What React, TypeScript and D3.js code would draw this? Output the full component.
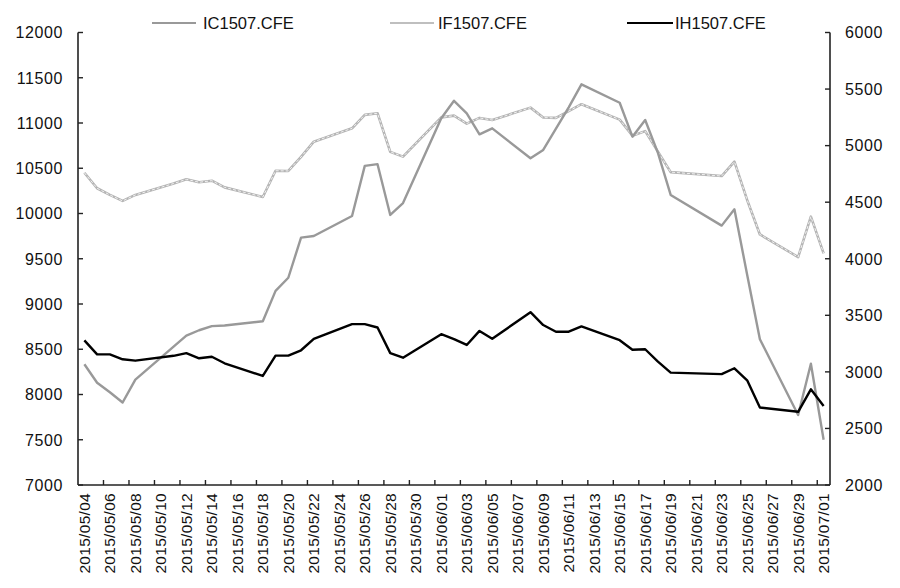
import React from "react";
import * as d3 from "d3";

const tradeDates = [
  "2015/05/04","2015/05/05","2015/05/06","2015/05/07","2015/05/08",
  "2015/05/11","2015/05/12","2015/05/13","2015/05/14","2015/05/15",
  "2015/05/18","2015/05/19","2015/05/20","2015/05/21","2015/05/22",
  "2015/05/25","2015/05/26","2015/05/27","2015/05/28","2015/05/29",
  "2015/06/01","2015/06/02","2015/06/03","2015/06/04","2015/06/05",
  "2015/06/08","2015/06/09","2015/06/10","2015/06/11","2015/06/12",
  "2015/06/15","2015/06/16","2015/06/17","2015/06/18","2015/06/19",
  "2015/06/23","2015/06/24","2015/06/25","2015/06/26",
  "2015/06/29","2015/06/30","2015/07/01",
];

const icValues = [
  8334, 8130, 8025, 7912, 8165,
  8530, 8650, 8710, 8755, 8762,
  8810, 9145, 9290, 9733, 9751,
  9972, 10526, 10545, 9984, 10115,
  11052, 11245, 11107, 10875, 10941,
  10610, 10702, 10937, 11173, 11427,
  11224, 10849, 11033, 10670, 10205,
  9866, 10046, 9324, 8610,
  7774, 8340, 7500,
];

const ifValues = [
  4760, 4623, 4564, 4511, 4564,
  4665, 4702, 4676, 4690, 4631,
  4546, 4778, 4776, 4900, 5035,
  5153, 5272, 5286, 4945, 4903,
  5250, 5265, 5195, 5245, 5226,
  5336, 5248, 5245, 5305, 5366,
  5230, 5088, 5128, 4947, 4766,
  4731, 4858, 4520, 4215,
  4015, 4372, 4048,
];

const ihValues = [
  3278, 3155, 3155, 3111, 3099,
  3142, 3166, 3120, 3134, 3076,
  2964, 3144, 3144, 3191, 3292,
  3422, 3422, 3392, 3166, 3125,
  3333, 3290, 3238, 3362, 3292,
  3528, 3414, 3355, 3355, 3402,
  3280, 3195, 3200, 3090, 2993,
  2980, 3032, 2925, 2685,
  2647, 2846, 2698,
];

const leftTicks = [7000, 7500, 8000, 8500, 9000, 9500, 10000, 10500, 11000, 11500, 12000];
const rightTicks = [2000, 2500, 3000, 3500, 4000, 4500, 5000, 5500, 6000];

const seriesNames = ["IC1507.CFE", "IF1507.CFE", "IH1507.CFE"];

const FONT = "'Liberation Sans', Arial, sans-serif";

export default function App() {
  const W = 900, H = 588;
  const left = 78, right = 830, top = 32.5, bottom = 485;

  const parse = d3.timeParse("%Y/%m/%d");
  const fmt = d3.timeFormat("%Y/%m/%d");
  const first = parse(tradeDates[0])!;
  const last = parse(tradeDates[tradeDates.length - 1])!;
  const calendar = d3.timeDay.range(first, d3.timeDay.offset(last, 1)).map(fmt);

  const x = d3.scaleBand<string>().domain(calendar).range([left, right]).padding(0);
  const bw = x.bandwidth();
  const cx = (d: string) => (x(d) as number) + bw / 2;

  const yL = d3.scaleLinear().domain([7000, 12000]).range([bottom, top]);
  const yR = d3.scaleLinear().domain([2000, 6000]).range([bottom, top]);

  const lineL = d3.line<number>().x((_, i) => cx(tradeDates[i])).y((v) => yL(v));
  const lineR = d3.line<number>().x((_, i) => cx(tradeDates[i])).y((v) => yR(v));

  const labelDays = calendar.filter((_, i) => i % 2 === 0);

  return (
    <svg width={W} height={H} style={{ position: "absolute", left: 0, top: 0, background: "#fff" }} fontFamily={FONT}>
      <rect x={0} y={0} width={W} height={H} fill="#fff" />
      {/* series */}
      <path d={lineR(ifValues)!} fill="none" stroke="#b4b4b4" strokeWidth={2.6} strokeLinejoin="round" />
      <path d={lineR(ifValues)!} fill="none" stroke="#f2f2f2" strokeWidth={1} strokeDasharray="3,2" strokeLinejoin="round" />
      <path d={lineL(icValues)!} fill="none" stroke="#999" strokeWidth={2.4} strokeLinejoin="round" />
      <path d={lineR(ihValues)!} fill="none" stroke="#000" strokeWidth={2.4} strokeLinejoin="round" />

      {/* axes */}
      <line x1={left} x2={left} y1={top} y2={bottom} stroke="#222" strokeWidth={1.6} />
      <line x1={right} x2={right} y1={top} y2={bottom} stroke="#222" strokeWidth={1.6} />
      <line x1={left} x2={right} y1={bottom} y2={bottom} stroke="#222" strokeWidth={1.6} />

      {leftTicks.map((t) => (
        <g key={"l" + t}>
          <line x1={left} x2={left + 5} y1={yL(t)} y2={yL(t)} stroke="#222" strokeWidth={1.4} />
          <text x={63} y={yL(t)} dy="0.36em" textAnchor="end" fontSize={16} letterSpacing={0.6} fill="#111">
            {t}
          </text>
        </g>
      ))}
      {rightTicks.map((t) => (
        <g key={"r" + t}>
          <line x1={right - 5} x2={right} y1={yR(t)} y2={yR(t)} stroke="#222" strokeWidth={1.4} />
          <text x={845} y={yR(t)} dy="0.36em" textAnchor="start" fontSize={16} letterSpacing={0.6} fill="#111">
            {t}
          </text>
        </g>
      ))}
      {labelDays.map((d, i) => (
        <g key={d}>
          {i > 0 && (
            <line x1={x(d)} x2={x(d)} y1={bottom} y2={bottom - 5} stroke="#222" strokeWidth={1.4} />
          )}
          <text
            transform={`translate(${cx(d)},493) rotate(-90)`}
            textAnchor="end"
            dy="0.36em"
            fontSize={15.5}
            letterSpacing={0.3}
            fill="#111"
          >
            {d}
          </text>
        </g>
      ))}

      {/* legend */}
      <line x1={152} x2={196} y1={23} y2={23} stroke="#999" strokeWidth={2.2} />
      <text x={203} y={23} dy="0.36em" fontSize={16.5} fill="#111">{seriesNames[0]}</text>
      <line x1={390} x2={434} y1={23} y2={23} stroke="#aaa" strokeWidth={1.4} />
      <text x={438} y={23} dy="0.36em" fontSize={16.5} fill="#111">{seriesNames[1]}</text>
      <line x1={627} x2={673} y1={23} y2={23} stroke="#000" strokeWidth={2.2} />
      <text x={675} y={23} dy="0.36em" fontSize={16.5} fill="#111">{seriesNames[2]}</text>
    </svg>
  );
}
